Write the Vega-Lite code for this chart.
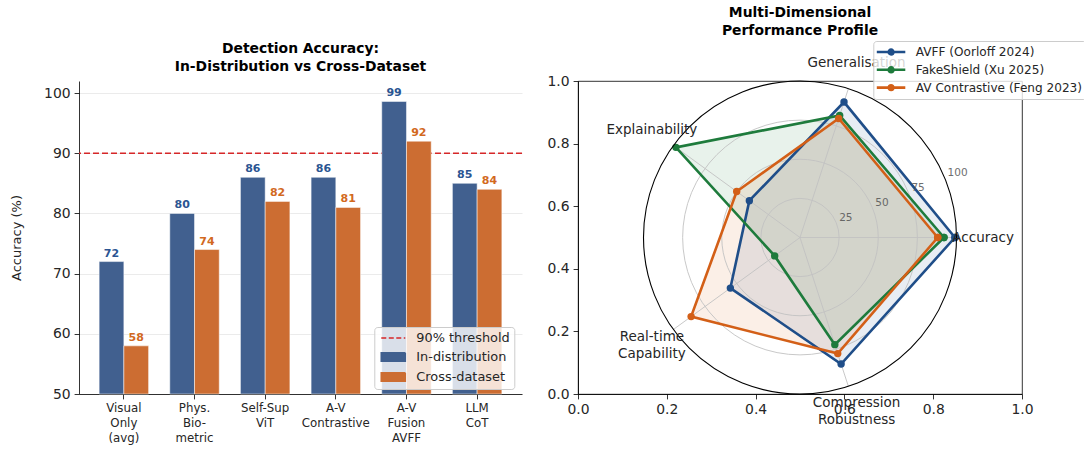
{
  "$schema": "https://vega.github.io/schema/vega-lite/v6.json",
  "background": "white",
  "padding": {"left": 10, "top": 5, "right": 0, "bottom": 0},
  "bounds": "flush",
  "spacing": 56,
  "config": {
    "font": "DejaVu Sans",
    "view": {"stroke": null},
    "axis": {"labelFont": "DejaVu Sans", "titleFont": "DejaVu Sans", "labelColor": "#262626", "titleColor": "#262626", "domainColor": "#000000", "tickColor": "#000000", "domainWidth": 0.8, "tickWidth": 0.8, "tickSize": 4.9, "labelPadding": 4, "titleFontWeight": "normal"},
    "legend": {"labelFont": "DejaVu Sans", "labelColor": "#262626", "labelLimit": 400},
    "title": {"font": "DejaVu Sans", "fontWeight": "bold", "color": "#000000", "anchor": "middle"}
  },
  "resolve": {"scale": {"color": "independent", "x": "independent", "y": "independent"}, "legend": {"color": "independent"}},
  "datasets": {
    "bars": [
      {"method": "Visual\nOnly\n(avg)", "series": "In-distribution", "acc": 72},
      {"method": "Visual\nOnly\n(avg)", "series": "Cross-dataset", "acc": 58},
      {"method": "Phys.\nBio-\nmetric", "series": "In-distribution", "acc": 80},
      {"method": "Phys.\nBio-\nmetric", "series": "Cross-dataset", "acc": 74},
      {"method": "Self-Sup\nViT", "series": "In-distribution", "acc": 86},
      {"method": "Self-Sup\nViT", "series": "Cross-dataset", "acc": 82},
      {"method": "A-V\nContrastive", "series": "In-distribution", "acc": 86},
      {"method": "A-V\nContrastive", "series": "Cross-dataset", "acc": 81},
      {"method": "A-V\nFusion\nAVFF", "series": "In-distribution", "acc": 98.6},
      {"method": "A-V\nFusion\nAVFF", "series": "Cross-dataset", "acc": 92},
      {"method": "LLM\nCoT", "series": "In-distribution", "acc": 85},
      {"method": "LLM\nCoT", "series": "Cross-dataset", "acc": 84}
    ],
    "dims": [
      {"dim": "Accuracy", "k": 0},
      {"dim": "Generalisation", "k": 1},
      {"dim": "Explainability", "k": 2},
      {"dim": "Real-time\nCapability", "k": 3},
      {"dim": "Compression\nRobustness", "k": 4}
    ],
    "radar": [
      {"model": "AVFF (Oorloff 2024)", "dim": "Accuracy", "k": 0, "score": 99},
      {"model": "AVFF (Oorloff 2024)", "dim": "Generalisation", "k": 1, "score": 91},
      {"model": "AVFF (Oorloff 2024)", "dim": "Explainability", "k": 2, "score": 40},
      {"model": "AVFF (Oorloff 2024)", "dim": "Real-time Capability", "k": 3, "score": 55},
      {"model": "AVFF (Oorloff 2024)", "dim": "Compression Robustness", "k": 4, "score": 85},
      {"model": "AVFF (Oorloff 2024)", "dim": "Accuracy", "k": 5, "score": 99},
      {"model": "FakeShield (Xu 2025)", "dim": "Accuracy", "k": 0, "score": 92},
      {"model": "FakeShield (Xu 2025)", "dim": "Generalisation", "k": 1, "score": 82},
      {"model": "FakeShield (Xu 2025)", "dim": "Explainability", "k": 2, "score": 98},
      {"model": "FakeShield (Xu 2025)", "dim": "Real-time Capability", "k": 3, "score": 20},
      {"model": "FakeShield (Xu 2025)", "dim": "Compression Robustness", "k": 4, "score": 72},
      {"model": "FakeShield (Xu 2025)", "dim": "Accuracy", "k": 5, "score": 92},
      {"model": "AV Contrastive (Feng 2023)", "dim": "Accuracy", "k": 0, "score": 88},
      {"model": "AV Contrastive (Feng 2023)", "dim": "Generalisation", "k": 1, "score": 80},
      {"model": "AV Contrastive (Feng 2023)", "dim": "Explainability", "k": 2, "score": 50},
      {"model": "AV Contrastive (Feng 2023)", "dim": "Real-time Capability", "k": 3, "score": 86},
      {"model": "AV Contrastive (Feng 2023)", "dim": "Compression Robustness", "k": 4, "score": 78},
      {"model": "AV Contrastive (Feng 2023)", "dim": "Accuracy", "k": 5, "score": 88}
    ],
    "rings": [{"r": 25}, {"r": 50}, {"r": 75}],
    "outer": [{"r": 100}],
    "rticks": [{"r": 25}, {"r": 50}, {"r": 75}, {"r": 100}]
  },
  "hconcat": [
    {
      "width": 443,
      "height": 313,
      "title": {"text": ["Detection Accuracy:", "In-Distribution vs Cross-Dataset"], "fontSize": 13.9, "lineHeight": 18, "offset": 7},
      "layer": [
        {
          "data": {"values": [{"threshold": 90}]},
          "mark": {"type": "rule", "strokeDash": [6, 3], "strokeWidth": 1.7},
          "encoding": {
            "y": {"field": "threshold", "type": "quantitative", "scale": {"domain": [50, 102], "nice": false, "zero": false},
              "axis": {"title": "Accuracy (%)", "titleFontSize": 13, "titlePadding": 20, "labelFontSize": 13.9, "values": [50, 60, 70, 80, 90, 100], "grid": true, "gridColor": "#e6e6e6", "gridWidth": 0.8}},
            "color": {"datum": "90% threshold", "type": "nominal", "title": null,
              "scale": {"domain": ["90% threshold", "In-distribution", "Cross-dataset"], "range": ["#d62728", "#41608f", "#cc6d32"]},
              "legend": {"orient": "none", "legendX": 295.3, "legendY": 246, "title": null, "labelFontSize": 12.9, "symbolSize": 144, "rowPadding": 4, "labelOffset": 24, "padding": 4, "fillColor": "rgba(255,255,255,0.8)", "strokeColor": "#cccccc", "cornerRadius": 3,
                "encode": {"symbols": {"update": {
                  "shape": {"signal": "datum.value === '90% threshold' ? 'M-0.67,0H3.33' : 'M-0.67,-0.7H3.33V0.7H-0.67Z'"},
                  "fill": {"signal": "datum.value === '90% threshold' ? 'transparent' : (datum.value === 'In-distribution' ? '#41608f' : '#cc6d32')"},
                  "stroke": {"signal": "datum.value === '90% threshold' ? '#d62728' : 'transparent'"},
                  "strokeDash": {"signal": "datum.value === '90% threshold' ? [5, 2.5] : [1, 0]"},
                  "strokeWidth": {"value": 1.6},
                  "opacity": {"value": 1},
                  "fillOpacity": {"value": 1},
                  "strokeOpacity": {"value": 1}
                }}}}
            }
          }
        },
        {
          "data": {"name": "bars"},
          "mark": {"type": "bar", "stroke": "white", "strokeWidth": 0.5},
          "encoding": {
            "x": {"field": "method", "type": "nominal", "sort": null, "scale": {"paddingInner": 0.3, "paddingOuter": 0.285},
              "axis": {"title": null, "labelAngle": 0, "labelFontSize": 11.8, "labelLineHeight": 15.3, "labelExpr": "split(datum.value, '\\n')", "labelBaseline": "top", "labelPadding": 3.5}},
            "xOffset": {"field": "series", "type": "nominal", "sort": ["In-distribution", "Cross-dataset"], "scale": {"paddingInner": 0, "paddingOuter": 0}},
            "y": {"field": "acc", "type": "quantitative"},
            "y2": {"datum": 50},
            "color": {"field": "series", "type": "nominal", "title": null}
          }
        },
        {
          "data": {"name": "bars"},
          "mark": {"type": "text", "fontWeight": "bold", "fontSize": 11, "baseline": "bottom", "dy": -3},
          "encoding": {
            "x": {"field": "method", "type": "nominal", "sort": null},
            "xOffset": {"field": "series", "type": "nominal", "sort": ["In-distribution", "Cross-dataset"]},
            "y": {"field": "acc", "type": "quantitative"},
            "text": {"field": "acc", "type": "quantitative", "format": ".0f"},
            "color": {"condition": {"test": "datum.series === 'In-distribution'", "value": "#2b5592"}, "value": "#d2691e"}
          }
        }
      ]
    },
    {
      "width": 444,
      "height": 313,
      "view": {"stroke": "#000000", "strokeWidth": 0.8},
      "title": {"text": ["Multi-Dimensional", "Performance Profile"], "fontSize": 13.9, "lineHeight": 18, "offset": 3},
      "encoding": {
        "x": {"field": "px", "type": "quantitative", "scale": {"domain": [0, 1], "nice": false, "zero": false},
          "axis": {"title": null, "values": [0, 0.2, 0.4, 0.6, 0.8, 1], "format": ".1f", "labelFontSize": 13.9, "grid": false, "labelFlush": false}},
        "y": {"field": "py", "type": "quantitative", "scale": {"domain": [0, 1], "nice": false, "zero": false},
          "axis": {"title": null, "values": [0, 0.2, 0.4, 0.6, 0.8, 1], "format": ".1f", "labelFontSize": 13.9, "grid": false, "labelFlush": false}}
      },
      "layer": [
        {
          "data": {"name": "radar"},
          "transform": [
            {"calculate": "0.5 + 0.35248 * datum.score / 100 * cos(datum.k * 2 * PI / 5)", "as": "px"},
            {"calculate": "0.5 + 0.5 * datum.score / 100 * sin(datum.k * 2 * PI / 5)", "as": "py"}
          ],
          "mark": {"type": "line", "filled": true, "fillOpacity": 0.1, "strokeOpacity": 0, "strokeWidth": 0},
          "encoding": {
            "order": {"field": "k", "type": "quantitative"},
            "color": {"field": "model", "type": "nominal",
              "scale": {"domain": ["AVFF (Oorloff 2024)", "FakeShield (Xu 2025)", "AV Contrastive (Feng 2023)"], "range": ["#1f4e89", "#1e7b3c", "#d35f17"]},
              "legend": {"orient": "none", "legendX": 295.3, "legendY": -40, "title": null, "labelFontSize": 12.1, "labelLimit": 400, "symbolSize": 144, "rowPadding": 0.8, "labelOffset": 24, "padding": 3.5, "fillColor": "rgba(255,255,255,0.8)", "strokeColor": "#cccccc", "cornerRadius": 3,
                "encode": {"symbols": {"update": {
                  "shape": {"value": "M-1.25,0H3.5M0.725,0A0.4,0.4 0 1,0 1.525,0A0.4,0.4 0 1,0 0.725,0"},
                  "fill": {"signal": "datum.value === 'AVFF (Oorloff 2024)' ? '#1f4e89' : (datum.value === 'FakeShield (Xu 2025)' ? '#1e7b3c' : '#d35f17')"},
                  "stroke": {"signal": "datum.value === 'AVFF (Oorloff 2024)' ? '#1f4e89' : (datum.value === 'FakeShield (Xu 2025)' ? '#1e7b3c' : '#d35f17')"},
                  "strokeWidth": {"value": 2.6},
                  "opacity": {"value": 1},
                  "fillOpacity": {"value": 1},
                  "strokeOpacity": {"value": 1}
                }}}}
            }
          }
        },
        {
          "data": {"name": "rings"},
          "transform": [{"calculate": "0.5", "as": "px"}, {"calculate": "0.5", "as": "py"}],
          "mark": {"type": "point", "filled": false, "stroke": "#c2c2c2", "strokeWidth": 0.9, "opacity": 1},
          "encoding": {
            "size": {"field": "r", "type": "quantitative", "scale": {"type": "pow", "exponent": 2, "domain": [0, 100], "range": [0, 97969], "zero": true}, "legend": null}
          }
        },
        {
          "data": {"name": "dims"},
          "transform": [
            {"calculate": "0.5", "as": "px"},
            {"calculate": "0.5", "as": "py"},
            {"calculate": "0.5 + 0.35248 * cos(datum.k * 2 * PI / 5)", "as": "ex"},
            {"calculate": "0.5 + 0.5 * sin(datum.k * 2 * PI / 5)", "as": "ey"}
          ],
          "mark": {"type": "rule", "color": "#c2c2c2", "strokeWidth": 0.9},
          "encoding": {
            "x2": {"field": "ex"},
            "y2": {"field": "ey"}
          }
        },
        {
          "data": {"name": "radar"},
          "transform": [
            {"calculate": "0.5 + 0.35248 * datum.score / 100 * cos(datum.k * 2 * PI / 5)", "as": "px"},
            {"calculate": "0.5 + 0.5 * datum.score / 100 * sin(datum.k * 2 * PI / 5)", "as": "py"}
          ],
          "mark": {"type": "line", "strokeWidth": 2.6},
          "encoding": {
            "order": {"field": "k", "type": "quantitative"},
            "color": {"field": "model", "type": "nominal"}
          }
        },
        {
          "data": {"name": "radar"},
          "transform": [
            {"calculate": "0.5 + 0.35248 * datum.score / 100 * cos(datum.k * 2 * PI / 5)", "as": "px"},
            {"calculate": "0.5 + 0.5 * datum.score / 100 * sin(datum.k * 2 * PI / 5)", "as": "py"}
          ],
          "mark": {"type": "point", "filled": true, "size": 55, "opacity": 1},
          "encoding": {
            "color": {"field": "model", "type": "nominal"}
          }
        },
        {
          "data": {"name": "outer"},
          "transform": [{"calculate": "0.5", "as": "px"}, {"calculate": "0.5", "as": "py"}],
          "mark": {"type": "point", "filled": false, "stroke": "#000000", "strokeWidth": 1.1, "opacity": 1},
          "encoding": {
            "size": {"field": "r", "type": "quantitative", "legend": null}
          }
        },
        {
          "data": {"name": "rticks"},
          "transform": [
            {"calculate": "0.5 + 0.35248 * datum.r / 100 * cos(PI / 8)", "as": "px"},
            {"calculate": "0.5 + 0.5 * datum.r / 100 * sin(PI / 8)", "as": "py"}
          ],
          "mark": {"type": "text", "fontSize": 10.5, "align": "left", "baseline": "middle", "dx": 3, "dy": -5, "color": "#555555", "opacity": 0.85},
          "encoding": {
            "text": {"field": "r", "type": "quantitative"}
          }
        },
        {
          "data": {"name": "dims"},
          "transform": [
            {"filter": "indexof(datum.dim, '\\n') < 0"},
            {"calculate": "0.5 + 0.35248 * 1.17 * cos(datum.k * 2 * PI / 5)", "as": "px"},
            {"calculate": "0.5 + 0.5 * 1.17 * sin(datum.k * 2 * PI / 5)", "as": "py"}
          ],
          "mark": {"type": "text", "fontSize": 13.5, "align": "center", "baseline": "middle", "color": "#262626"},
          "encoding": {
            "text": {"field": "dim", "type": "nominal"}
          }
        },
        {
          "data": {"name": "dims"},
          "transform": [
            {"filter": "indexof(datum.dim, '\\n') >= 0"},
            {"calculate": "0.5 + 0.35248 * 1.17 * cos(datum.k * 2 * PI / 5)", "as": "px"},
            {"calculate": "0.5 + 0.5 * 1.17 * sin(datum.k * 2 * PI / 5)", "as": "py"}
          ],
          "mark": {"type": "text", "fontSize": 13.5, "lineBreak": "\n", "lineHeight": 16.7, "align": "center", "baseline": "middle", "dy": -8.3, "color": "#262626"},
          "encoding": {
            "text": {"field": "dim", "type": "nominal"}
          }
        }
      ]
    }
  ]
}
